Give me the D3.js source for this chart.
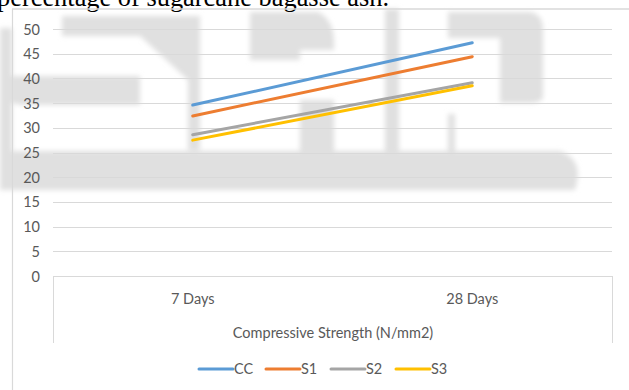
<!DOCTYPE html>
<html>
<head>
<meta charset="utf-8">
<script src="https://cdn.jsdelivr.net/npm/d3@7/dist/d3.min.js"></script>
<style>
  html, body { margin: 0; padding: 0; background: #fff; }
  svg { display: block; }
  .lbl { font-family: Lato, "Liberation Sans", sans-serif; fill: #595959; }
</style>
</head>
<body>
<svg id="chart" width="629" height="390"></svg>
<script>
// Compressive strength of the mixes at two curing ages
const categories = ["7 Days", "28 Days"];
const seriesNames = ["CC", "S1", "S2", "S3"];
const ccValues = [34.6, 47.2];
const s1Values = [32.4, 44.4];
const s2Values = [28.6, 39.1];
const s3Values = [27.5, 38.5];
const yTicks = [0, 5, 10, 15, 20, 25, 30, 35, 40, 45, 50];
const seriesColors = ["#5B9BD5", "#ED7D31", "#A5A5A5", "#FFC000"];

const series = [ccValues, s1Values, s2Values, s3Values].map((v, i) => ({
  name: seriesNames[i], color: seriesColors[i], values: v
}));

const svg = d3.select("#chart");
const W = 629, H = 390;
const plot = { left: 53, right: 612, top: 29, bottom: 276 };
const FS = 14.5;

svg.append("rect").attr("width", W).attr("height", H).attr("fill", "#fff");

// faint background marks behind the chart
const defs = svg.append("defs");
defs.append("filter").attr("id", "soft")
  .attr("x", "-10%").attr("y", "-10%").attr("width", "120%").attr("height", "120%")
  .append("feGaussianBlur").attr("stdDeviation", 2.5);
const bg = svg.append("g").attr("filter", "url(#soft)").attr("fill", "#e0e0e0");
[
  "M62,16 H200 V150 H188 V80 L140,36 H62 Z",
  "M0,76 H140 V105 H20 Q0,100 0,90 Z",
  "M0,28 H12 V155 H0 Z",
  "M0,151 H560 Q585,160 575,190 H0 Z",
  "M250,12 H318 Q336,20 334,50 H300 V100 H334 V151 H300 V60 H250 Z",
  "M385,9 H399 V151 H385 Z",
  "M448,12 H530 Q543,14 543,30 V98 Q540,103 530,103 H500 V38 H448 Z",
  "M448,114 H455 V151 H448 Z"
].forEach(d => bg.append("path").attr("d", d));

// caption text running across the top edge
svg.append("text")
  .attr("x", -3).attr("y", 6)
  .attr("font-family", "'Liberation Serif', 'Times New Roman', serif")
  .attr("font-size", 27)
  .attr("fill", "#000")
  .attr("textLength", 392).attr("lengthAdjust", "spacingAndGlyphs")
  .text("percentage of sugarcane bagasse ash.");

// chart frame
svg.append("line").attr("x1", 12).attr("x2", W).attr("y1", 9).attr("y2", 9)
  .attr("stroke", "#d9d9d9").attr("stroke-width", 1.5);
svg.append("line").attr("x1", 12.5).attr("x2", 12.5).attr("y1", 9).attr("y2", H)
  .attr("stroke", "#d9d9d9").attr("stroke-width", 1.2);

const y = d3.scaleLinear().domain([0, 50]).range([plot.bottom, plot.top]);
const xBand = d3.scaleBand().domain(categories).range([plot.left, plot.right]);
const x = c => xBand(c) + xBand.bandwidth() / 2;

// gridlines
svg.append("g").selectAll("line").data(yTicks).join("line")
  .attr("x1", plot.left).attr("x2", plot.right)
  .attr("y1", d => Math.round(y(d)) + 0.5).attr("y2", d => Math.round(y(d)) + 0.5)
  .attr("stroke", "#d9d9d9").attr("stroke-width", 1);

// value axis labels
const yAxis = d3.axisLeft(y).tickValues(yTicks).tickSize(0).tickPadding(0);
const ya = svg.append("g").attr("transform", "translate(40,0)").call(yAxis);
ya.select(".domain").remove();
ya.selectAll("text").attr("class", "lbl").attr("font-size", FS)
  .attr("fill", "#595959").attr("dy", "0.35em")
  .style("font-family", "Lato, 'Liberation Sans', sans-serif");

// category axis box
const cat = svg.append("g");
[plot.left, plot.right].forEach(px => {
  cat.append("line").attr("x1", px + 0.5).attr("x2", px + 0.5)
    .attr("y1", plot.bottom).attr("y2", 343)
    .attr("stroke", "#d9d9d9").attr("stroke-width", 1);
});
const xAxis = d3.axisBottom(xBand).tickSize(0).tickPadding(0);
const xa = svg.append("g").attr("transform", `translate(0,${plot.bottom})`).call(xAxis);
xa.select(".domain").remove();
xa.selectAll("text").attr("class", "lbl").attr("font-size", FS)
  .attr("fill", "#595959").attr("y", 23).attr("dy", "0.35em")
  .style("font-family", "Lato, 'Liberation Sans', sans-serif");

svg.append("text").attr("class", "lbl")
  .attr("x", (plot.left + plot.right) / 2 + 0.5).attr("y", 333).attr("dy", "0.35em")
  .attr("text-anchor", "middle").attr("font-size", FS)
  .text("Compressive Strength (N/mm2)");

// series lines
const line = d3.line().x((d, i) => x(categories[i])).y(d => y(d));
svg.append("g").selectAll("path").data(series).join("path")
  .attr("d", d => line(d.values))
  .attr("fill", "none").attr("stroke", d => d.color)
  .attr("stroke-width", 3).attr("stroke-linecap", "round");

// legend
const legendX = [199, 266, 331, 396];
const lg = svg.append("g").selectAll("g").data(series).join("g")
  .attr("transform", (d, i) => `translate(${legendX[i]},369)`);
lg.append("line").attr("x1", 0).attr("x2", 34).attr("y1", 0).attr("y2", 0)
  .attr("stroke", d => d.color).attr("stroke-width", 3).attr("stroke-linecap", "round");
lg.append("text").attr("class", "lbl").attr("x", 35).attr("dy", "0.35em")
  .attr("font-size", FS).text(d => d.name);
</script>
</body>
</html>
